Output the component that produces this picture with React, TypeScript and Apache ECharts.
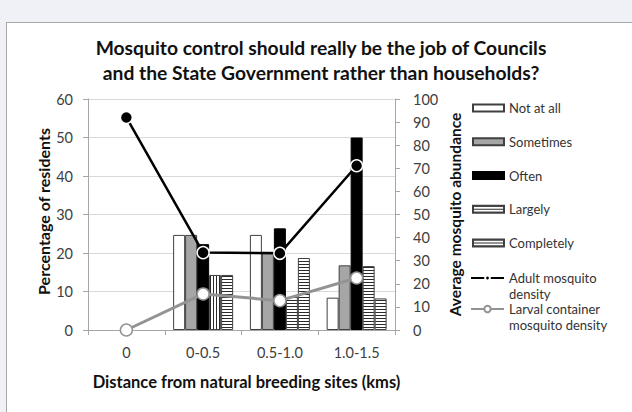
import React, { useEffect, useRef } from 'react';
import * as echarts from 'echarts';

const categories = ['0', '0-0.5', '0.5-1.0', '1.0-1.5'];
const notAtAll = [null, 24.7, 24.7, 8.4];
const sometimes = [null, 24.7, 20.3, 16.8];
const often = [null, 22.3, 26.4, 50];
const largely = [null, 14.3, 8.6, 16.6];
const completely = [null, 14.3, 18.7, 8.2];
const adultDensity = [92, 33.5, 33.2, 71.1];
const larvalDensity = [0, 15.6, 12.7, 22.5];

const leftTicks = { min: 0, max: 60, interval: 10 };
const rightTicks = { min: 0, max: 100, interval: 10 };

const FONT = 'Lato';

function makeStripes(vertical: boolean, bg: string) {
  const c = document.createElement('canvas');
  const w = vertical ? 3 : 6;
  const h = vertical ? 6 : 3;
  c.width = w;
  c.height = h;
  const ctx = c.getContext('2d')!;
  ctx.fillStyle = bg;
  ctx.fillRect(0, 0, w, h);
  ctx.fillStyle = '#2a2a2a';
  if (vertical) ctx.fillRect(0, 0, 1, h);
  else ctx.fillRect(0, 0, w, 1);
  return { image: c.toDataURL(), repeat: 'repeat', imageWidth: w, imageHeight: h } as any;
}

export default function App() {
  const ref = useRef<HTMLDivElement>(null);
  useEffect(() => {
    if (!ref.current) return;
    const chart = echarts.init(ref.current, undefined, { renderer: 'svg' });
    const hPat = makeStripes(false, '#ffffff');
    const vPat = makeStripes(true, '#ffffff');
    const barBase = {
      type: 'bar',
      barWidth: 12,
      barGap: '0%',
      yAxisIndex: 0,
    };
    const legendText = { fontFamily: FONT, fontSize: 13, color: '#333', lineHeight: 16 };
    const option: any = {
      animation: false,
      textStyle: { fontFamily: FONT },
      title: {
        text: 'Mosquito control should really be the job of Councils\nand the State Government rather than households?',
        left: 321,
        textAlign: 'center',
        top: 35,
        padding: 0,
        textStyle: {
          fontFamily: FONT,
          fontSize: 19.3,
          fontWeight: 'bold',
          color: '#111',
          lineHeight: 25,
        },
      },
      grid: { left: 88, right: 237, top: 99, bottom: 82, containLabel: false },
      legend: [
        {
          orient: 'vertical',
          left: 472,
          top: 100,
          padding: 0,
          itemWidth: 31,
          itemHeight: 7,
          itemGap: 17.75,
          icon: 'rect',
          textStyle: legendText,
          data: ['Not at all', 'Sometimes', 'Often', 'Largely', 'Completely'],
        },
        {
          orient: 'vertical',
          left: 470,
          top: 254,
          padding: 0,
          itemWidth: 33,
          itemHeight: 6,
          textStyle: legendText,
          formatter: () => '\nAdult mosquito\ndensity',
          data: ['Adult mosquito density'],
        },
        {
          orient: 'vertical',
          left: 470,
          top: 285,
          padding: 0,
          itemWidth: 33,
          itemHeight: 8,
          textStyle: legendText,
          formatter: () => '\nLarval container\nmosquito density',
          data: ['Larval container mosquito density'],
        },
      ],
      xAxis: {
        type: 'category',
        data: categories,
        name: 'Distance from natural breeding sites (kms)',
        nameLocation: 'middle',
        nameGap: 43,
        nameTextStyle: { fontFamily: FONT, fontSize: 16.5, fontWeight: 'bold', color: '#111', padding: [0, 0, 0, 10] },
        axisLine: { lineStyle: { color: '#a6a6a6' } },
        axisTick: { show: true, length: 5, lineStyle: { color: '#a6a6a6' } },
        axisLabel: { fontFamily: FONT, fontSize: 14.5, color: '#404040', margin: 15 },
      },
      yAxis: [
        {
          type: 'value',
          ...leftTicks,
          name: 'Percentage of residents',
          nameLocation: 'middle',
          nameGap: 37,
          nameRotate: 90,
          nameTextStyle: { fontFamily: FONT, fontSize: 16, fontWeight: 'bold', color: '#111', padding: [0, 0, 0, 6] },
          axisLine: { show: true, lineStyle: { color: '#a6a6a6' } },
          axisTick: { show: true, length: 5, lineStyle: { color: '#a6a6a6' } },
          axisLabel: { fontFamily: FONT, fontSize: 14.5, color: '#404040', margin: 15 },
          splitLine: { show: true, lineStyle: { color: '#d9d9d9' } },
        },
        {
          type: 'value',
          ...rightTicks,
          position: 'right',
          name: 'Average mosquito abundance',
          nameLocation: 'middle',
          nameGap: 52,
          nameRotate: 90,
          nameTextStyle: { fontFamily: FONT, fontSize: 15.5, fontWeight: 'bold', color: '#111' },
          axisLine: { show: true, lineStyle: { color: '#a6a6a6' } },
          axisTick: { show: true, length: 5, lineStyle: { color: '#a6a6a6' } },
          axisLabel: { fontFamily: FONT, fontSize: 14.5, color: '#404040', margin: 18 },
          splitLine: { show: false },
        },
      ],
      series: [
        {
          ...barBase,
          name: 'Not at all',
          data: notAtAll,
          itemStyle: { color: '#ffffff', borderColor: '#404040', borderWidth: 1 },
        },
        {
          ...barBase,
          name: 'Sometimes',
          data: sometimes,
          itemStyle: { color: '#a6a6a6', borderColor: '#404040', borderWidth: 1 },
        },
        {
          ...barBase,
          name: 'Often',
          data: often,
          itemStyle: { color: '#000000', borderColor: '#000000', borderWidth: 1 },
        },
        {
          ...barBase,
          name: 'Largely',
          data: largely.map((v, i) =>
            i === 1 ? { value: v, itemStyle: { color: vPat } } : v
          ),
          itemStyle: { color: hPat, borderColor: '#404040', borderWidth: 1 },
        },
        {
          ...barBase,
          name: 'Completely',
          data: completely,
          itemStyle: { color: hPat, borderColor: '#404040', borderWidth: 1 },
        },
        {
          type: 'line',
          name: 'Adult mosquito density',
          yAxisIndex: 1,
          data: adultDensity,
          symbol: 'circle',
          symbolSize: 12,
          lineStyle: { color: '#000', width: 2.5 },
          itemStyle: { color: '#000', borderColor: '#fff', borderWidth: 1.5 },
          z: 5,
        },
        {
          type: 'line',
          name: 'Larval container mosquito density',
          yAxisIndex: 1,
          data: larvalDensity,
          symbol: 'circle',
          symbolSize: 12,
          lineStyle: { color: '#939393', width: 3 },
          itemStyle: { color: '#fff', borderColor: '#939393', borderWidth: 1.5 },
          z: 5,
        },
      ],
    };
    chart.setOption(option);
    return () => chart.dispose();
  }, []);
  return (
    <div style={{ position: 'fixed', left: 0, top: 0, width: 632, height: 412, background: '#eff1f6', overflow: 'hidden' }}>
      <div
        style={{
          position: 'absolute',
          left: 6,
          top: 22,
          width: 700,
          height: 500,
          background: '#ffffff',
          borderLeft: '1px solid #a8a8a8',
          borderTop: '1px solid #a8a8a8',
        }}
      />
      <div ref={ref} style={{ position: 'absolute', left: 0, top: 0, width: 632, height: 412 }} />
    </div>
  );
}
